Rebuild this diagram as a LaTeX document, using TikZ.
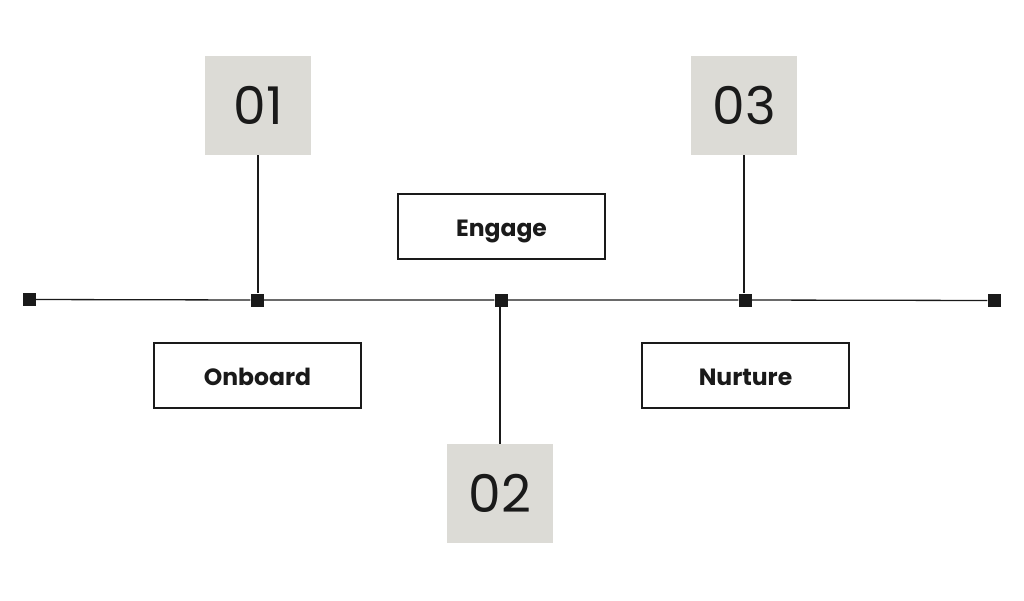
\documentclass[tikz,border=0pt]{standalone}
\usepackage{fontspec}
\setmainfont{Poppins}
\definecolor{boxgray}{HTML}{DCDBD6}
\definecolor{ink}{HTML}{1A1A1A}
\begin{document}
\begin{tikzpicture}[x=1pt,y=-1pt,
  numbox/.style={fill=boxgray,draw=none,minimum width=106pt,minimum height=99pt,inner sep=0pt,font=\fontsize{52}{52}\selectfont,text=ink},
  labbox/.style={draw=ink,line width=1.3pt,fill=white,minimum width=207pt,minimum height=65pt,inner sep=0pt,text height=20pt,text depth=0pt,font=\bfseries\fontsize{23.5}{23.5}\selectfont,text=ink},
  marker/.style={fill=ink,draw=none,minimum size=13pt,inner sep=0pt},
  conn/.style={draw=ink,line width=1.3pt}]
\useasboundingbox (0,0) rectangle (1024,600);
\node[marker] (m0) at (29,299.5) {};
\node[marker] (m1) at (257,300) {};
\node[marker] (m2) at (501,300) {};
\node[marker] (m3) at (745,300) {};
\node[marker] (m4) at (994,300.5) {};
\node[numbox] (n1) at (258,105.5) {01};
\node[numbox] (n3) at (744,105.5) {03};
\node[numbox] (n2) at (500,493.5) {02};
\node[labbox] (engage) at (501.5,226.5) {Engage};
\node[labbox] (onboard) at (257.5,375.5) {Onboard};
\node[labbox] (nurture) at (745.5,375.5) {Nurture};
\draw[conn] (m0) -- (m1) -- (m2) -- (m3) -- (m4);
\draw[conn] (n1.south) -- (n1.south |- m1.north);
\draw[conn] (n3.south) -- (n3.south |- m3.north);
\draw[conn] (n2.north) -- (n2.north |- m2.south);
\end{tikzpicture}
\end{document}
